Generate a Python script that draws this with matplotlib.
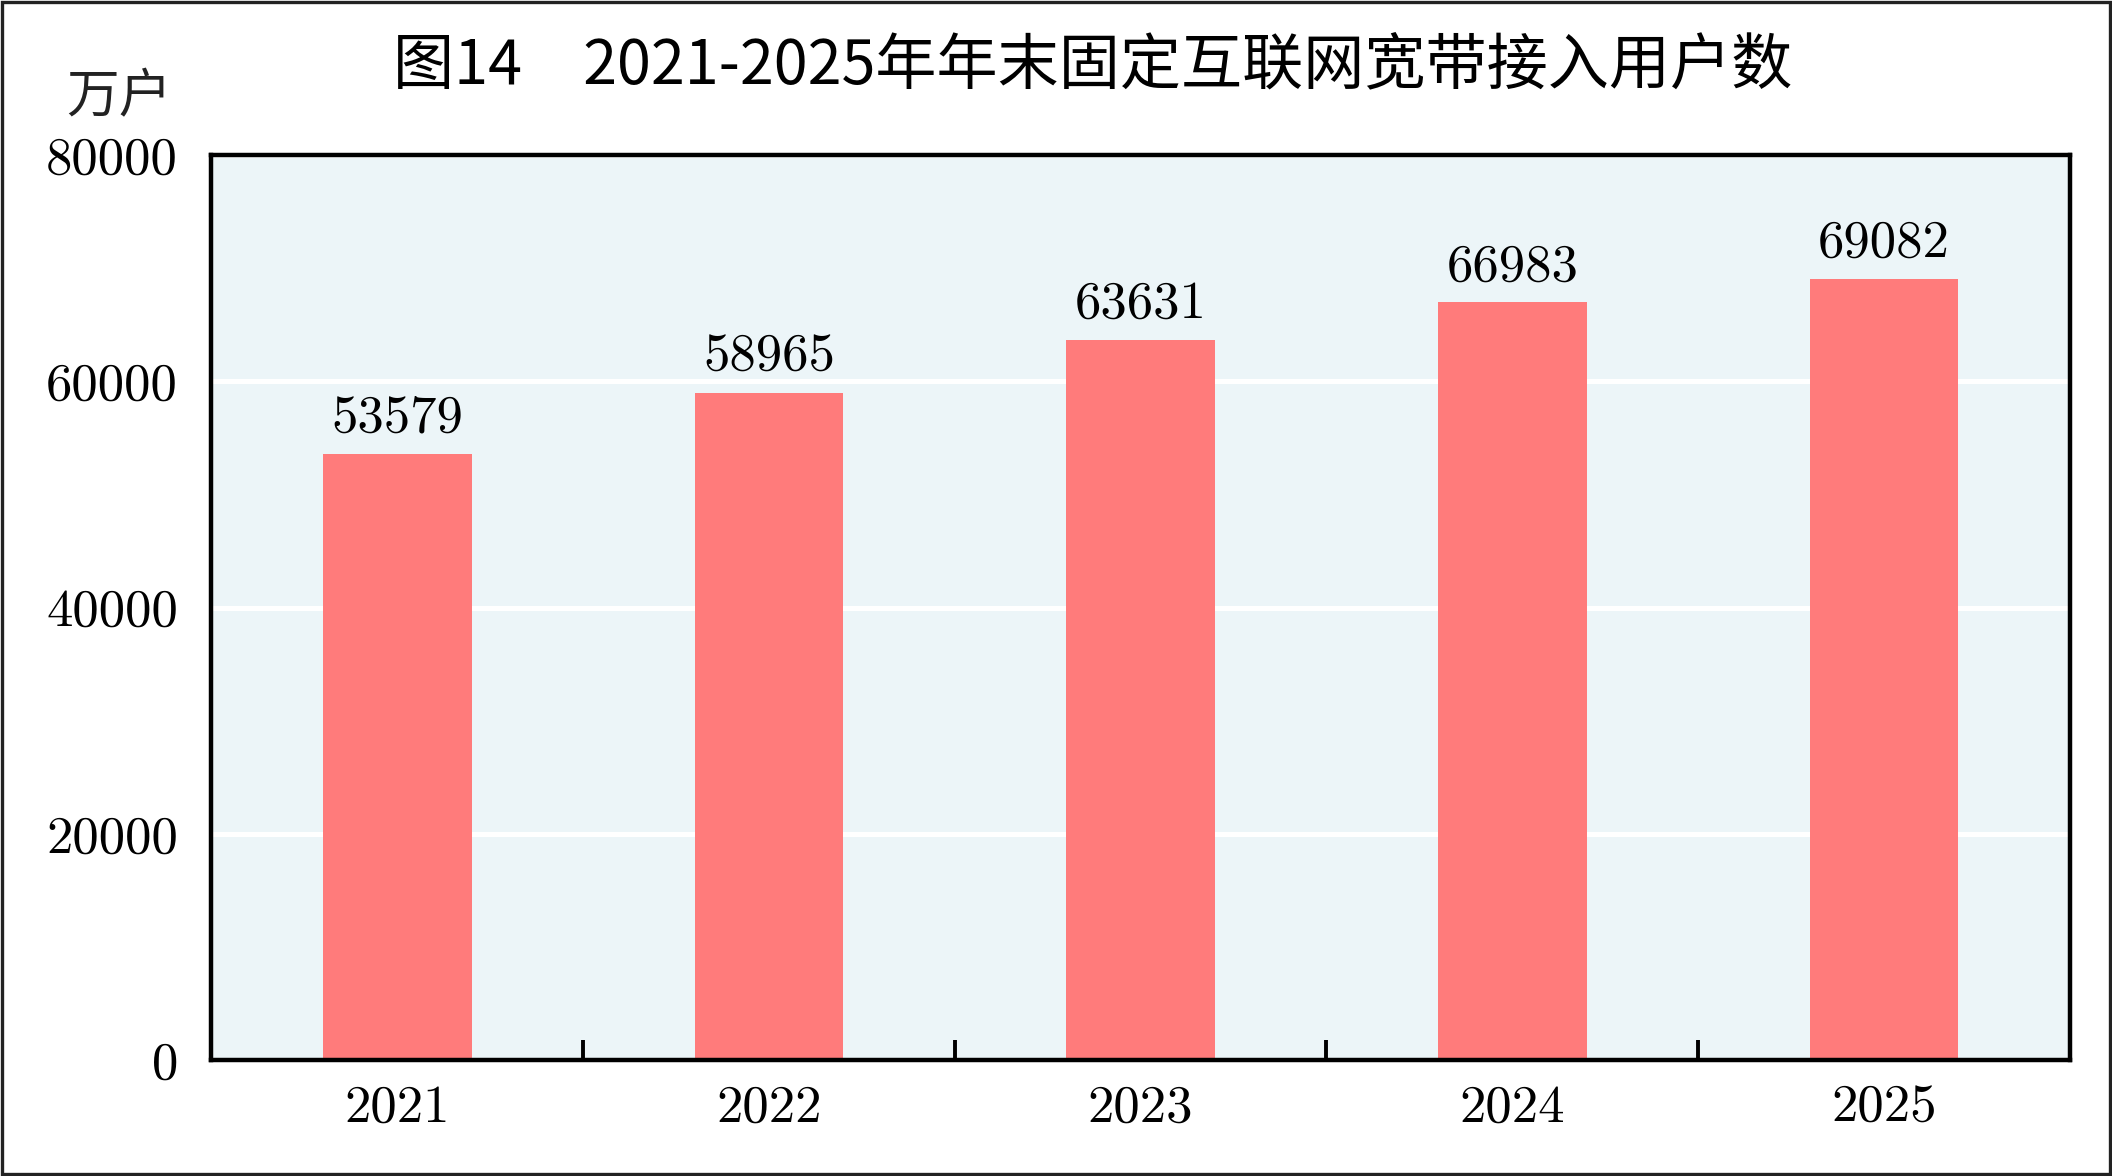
import matplotlib
matplotlib.use("Agg")
import matplotlib.pyplot as plt
from matplotlib.patches import Rectangle

# data
years = ["2021", "2022", "2023", "2024", "2025"]
users = [53579, 58965, 63631, 66983, 69082]
yticks = [0, 20000, 40000, 60000, 80000]

title = "图14\u30002021-2025年年末固定互联网宽带接入用户数"
unit = "万户"

plt.rcParams['font.family'] = ['Noto Sans CJK SC', 'DejaVu Sans']

fig = plt.figure(figsize=(10.56, 5.88), dpi=200)
ax = fig.add_axes([0.1001, 0.0986, 0.8799, 0.7694])
ax.set_facecolor("#ecf5f8")

x = list(range(len(years)))
bars = ax.bar(x, users, width=0.4, color="#ff7b7b", zorder=3)

ax.set_xlim(-0.5, len(years) - 0.5)
ax.set_ylim(0, 80000)
ax.set_yticks(yticks)
ax.set_yticklabels([str(v) for v in yticks], fontfamily="cmr10", fontsize=19)
ax.yaxis.grid(True, color="white", linewidth=1.8, zorder=1)
ax.tick_params(axis="y", length=0, pad=12)

# separators between categories as major ticks, labels on minor ticks
ax.set_xticks([i + 0.5 for i in x[:-1]])
ax.set_xticklabels([])
ax.tick_params(axis="x", which="major", direction="in", length=7.2, width=1.4, color="black")
ax.set_xticks(x, minor=True)
ax.set_xticklabels(years, minor=True, fontfamily="cmr10", fontsize=19)
ax.tick_params(axis="x", which="minor", length=0, pad=9)

for s in ax.spines.values():
    s.set_linewidth(1.6)
    s.set_color("black")
    s.set_zorder(4)

for xi, v in zip(x, users):
    ax.annotate(str(v), (xi, v), xytext=(0, 8), textcoords="offset points",
                ha="center", va="baseline", fontfamily="cmr10", fontsize=19)

fig.text(0.5175, 0.944, title, ha="center", va="center", fontsize=22,
         fontweight="medium", color="black")
fig.text(0.0563, 0.918, unit, ha="center", va="center", fontsize=19,
         fontweight="light", color="#222222")

# frame around the whole picture
fig.patches.append(Rectangle((0.0008, 0.0015), 0.9984, 0.997, transform=fig.transFigure,
                             fill=False, edgecolor="#222222", linewidth=1.2))

fig.savefig("out.png", dpi=200)
